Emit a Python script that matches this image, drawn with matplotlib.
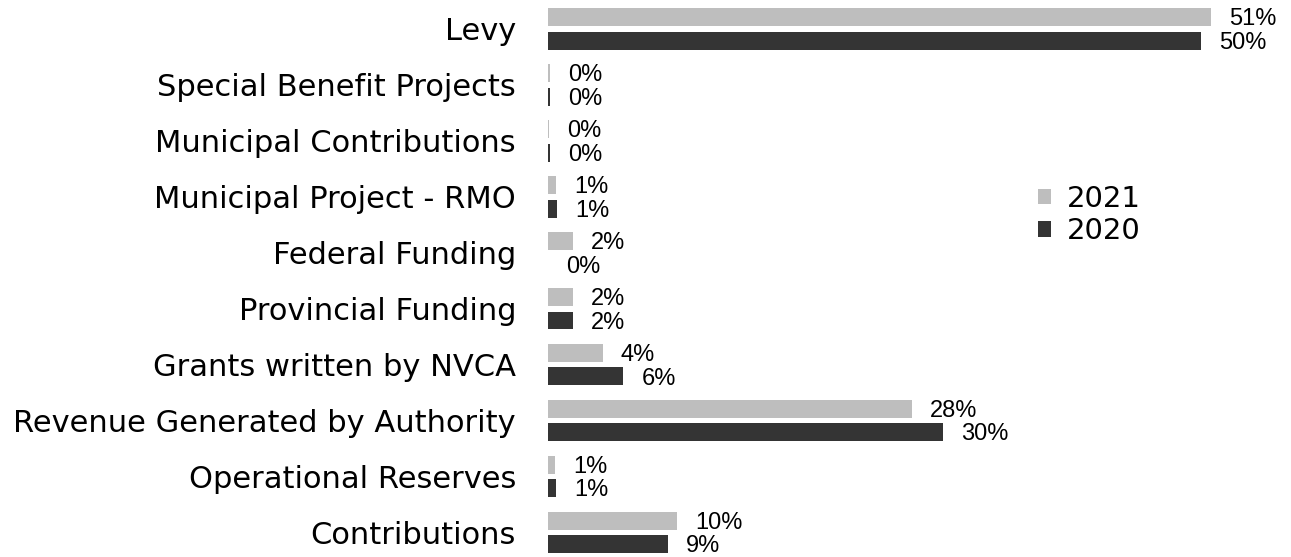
import numpy as np
import matplotlib
matplotlib.use("Agg")
import matplotlib.pyplot as plt

# revenue share (%) by source, listed top to bottom
categories = [
    "Levy",
    "Special Benefit Projects",
    "Municipal Contributions",
    "Municipal Project - RMO",
    "Federal Funding",
    "Provincial Funding",
    "Grants written by NVCA",
    "Revenue Generated by Authority",
    "Operational Reserves",
    "Contributions",
]
share_2021 = [51.0, 0.15, 0.08, 0.6, 1.9, 1.9, 4.2, 28.0, 0.55, 9.9]
share_2020 = [50.2, 0.15, 0.15, 0.7, 0.0, 1.9, 5.8, 30.4, 0.6, 9.2]

LIGHT = "#bebebe"
DARK = "#343434"

fig = plt.figure(figsize=(12.91, 5.57), dpi=100)
ax = fig.add_axes([0.4245, -0.0063, 0.574, 1.0045])

y = np.arange(len(categories))
h = 0.32
off = 0.21

ax.barh(y - off, share_2021, height=h, color=LIGHT, label="2021")
ax.barh(y + off, share_2020, height=h, color=DARK, label="2020")

# percentage labels just past the end of each bar
for shift, values in ((-off, share_2021), (off, share_2020)):
    for yi, v in zip(y, values):
        ax.annotate(f"{v:.0f}%", (v, yi + shift), xytext=(13, -1.5),
                    textcoords="offset points", va="center", ha="left",
                    fontsize=17, family="Liberation Sans")

ax.set_xlim(0, 57)
ax.set_ylim(len(categories) - 0.5, -0.5)
ax.set_yticks(y)
ax.set_yticklabels(categories, fontsize=22)
ax.tick_params(axis="y", length=0, pad=23)
ax.set_xticks([])
for s in ax.spines.values():
    s.set_visible(False)

ax.legend(loc="center left", bbox_to_anchor=(0.661, 0.6175), frameon=False,
          fontsize=21, handlelength=0.45, handleheight=0.45, handletextpad=0.55,
          labelspacing=0.15, borderpad=0, borderaxespad=0)

fig.savefig("out.png", dpi=100)
